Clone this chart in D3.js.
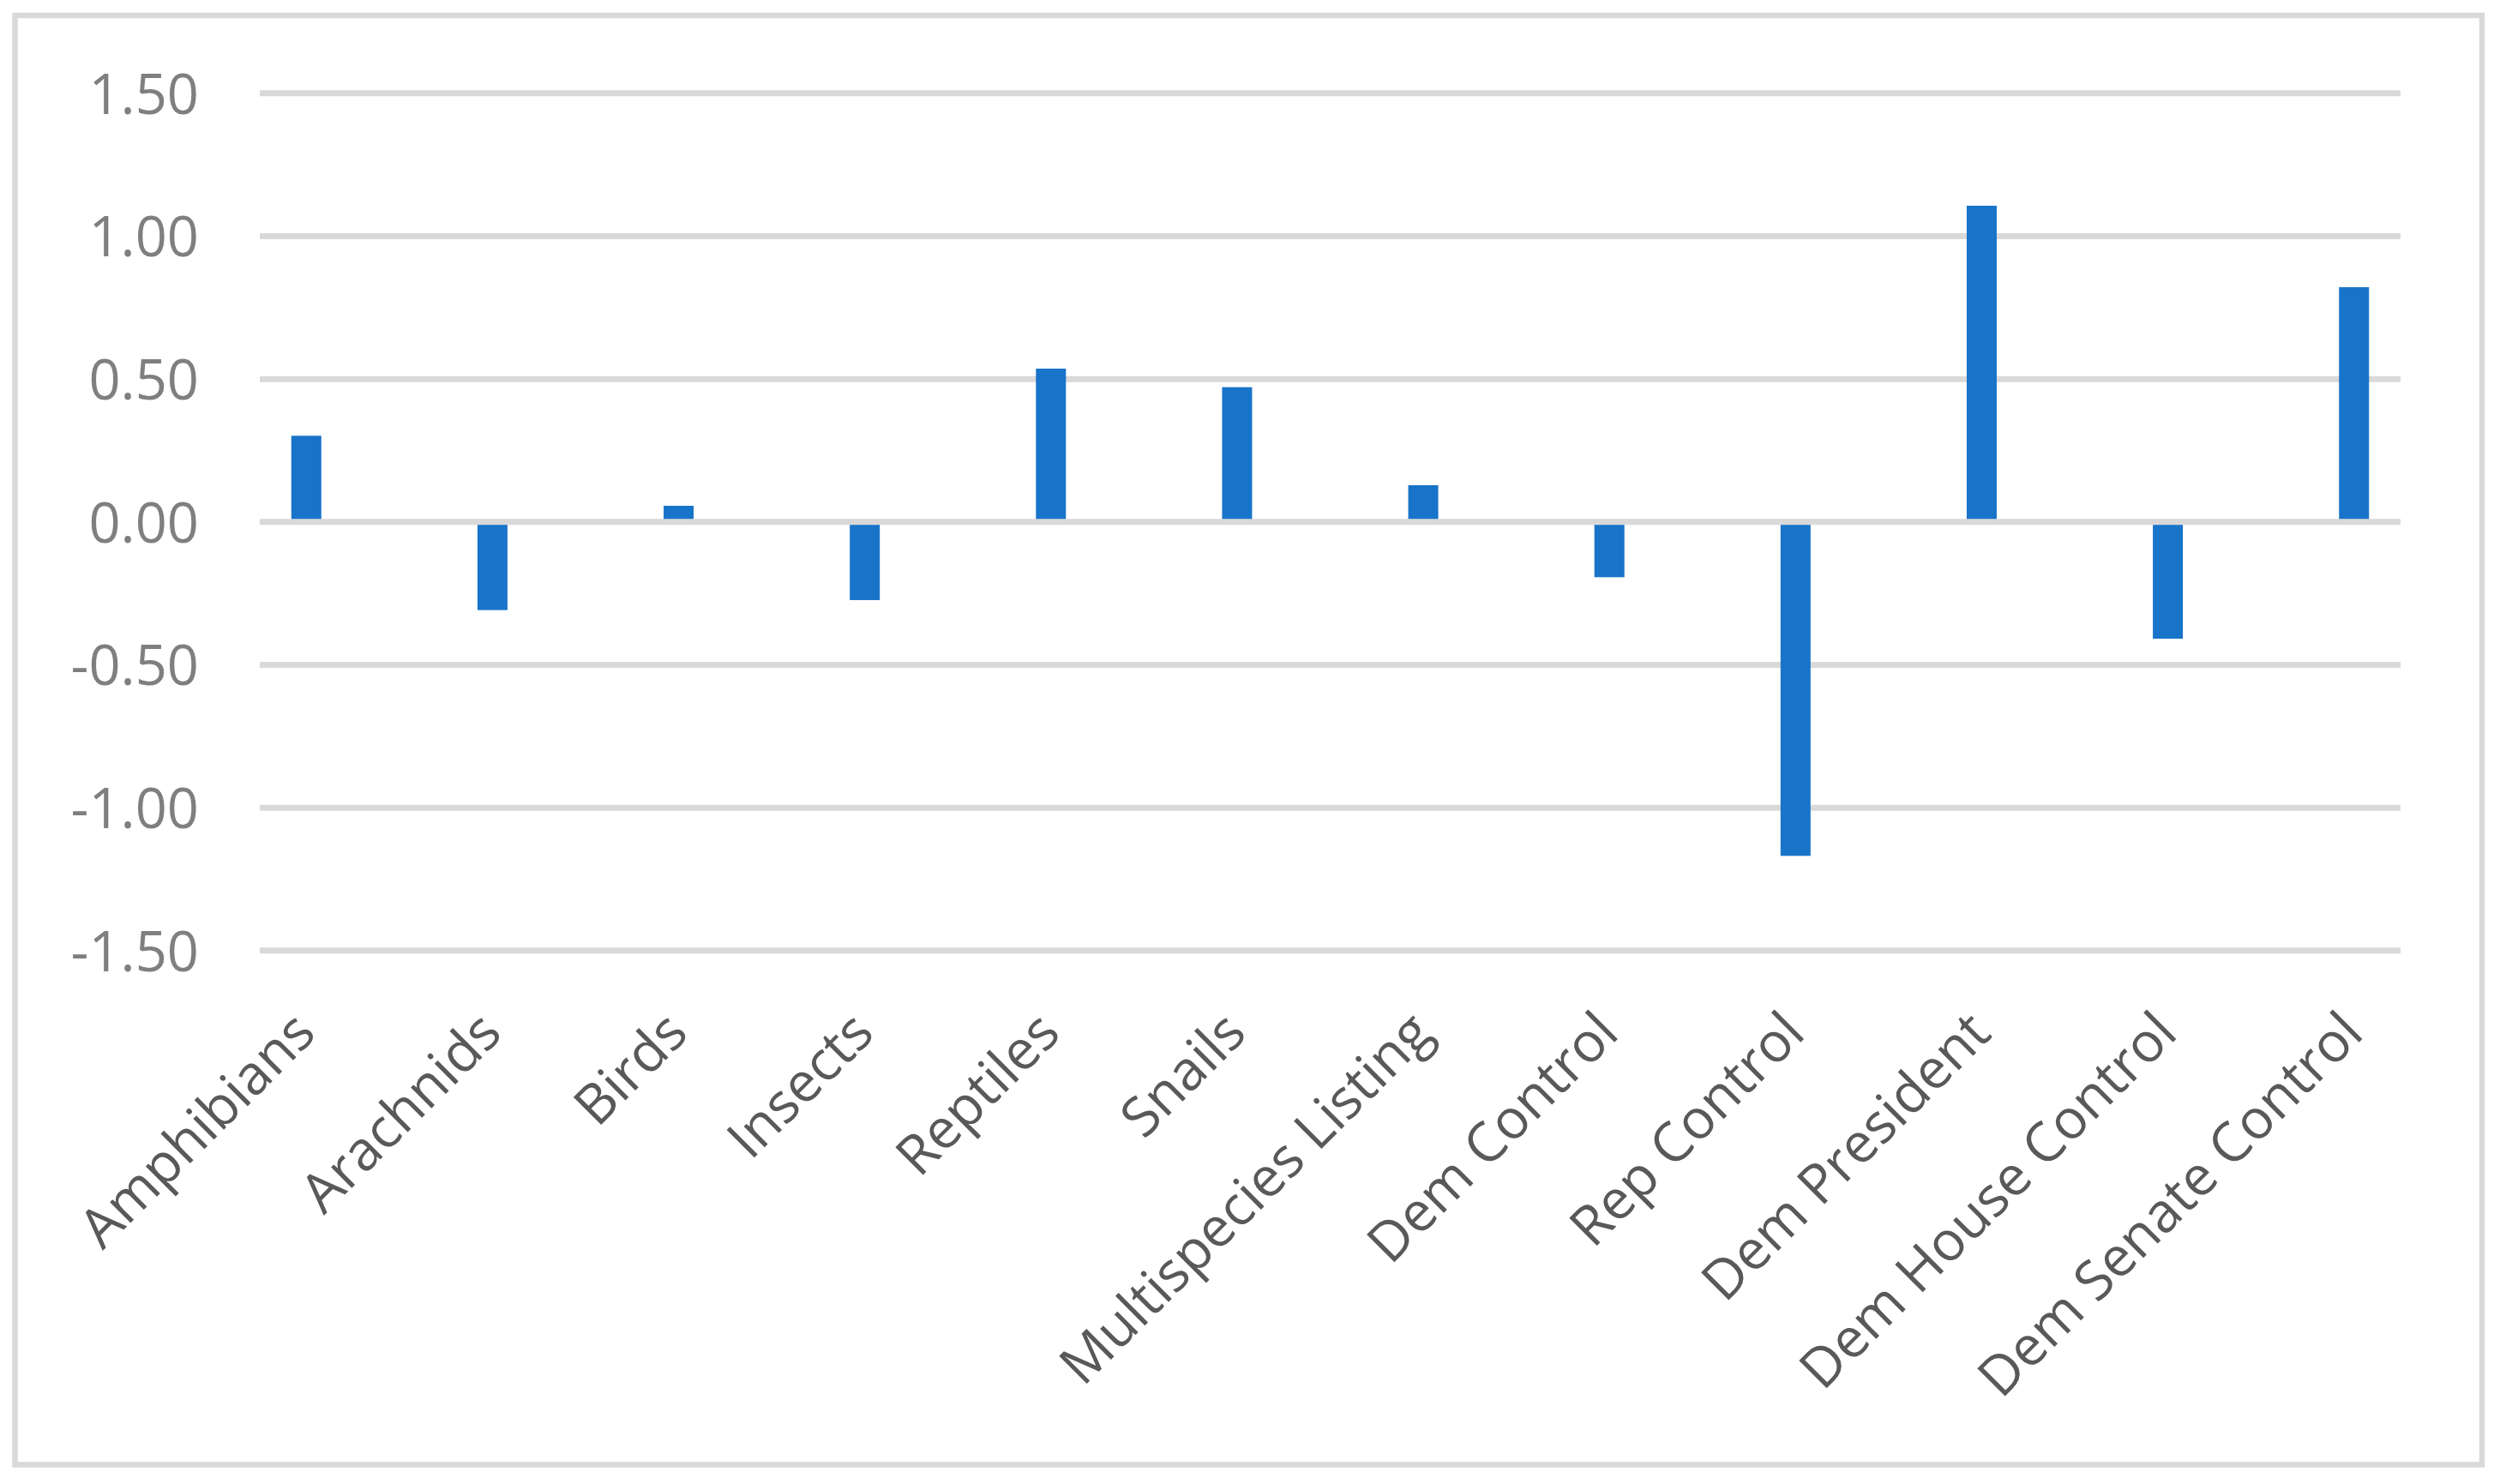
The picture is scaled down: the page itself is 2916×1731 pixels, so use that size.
<!DOCTYPE html>
<html>
<head>
<meta charset="utf-8">
<script src="https://cdn.jsdelivr.net/npm/d3@7"></script>
<style>
  html, body { margin: 0; padding: 0; background: #ffffff; }
  svg { display: block; }
  text { font-family: "Open Sans", "Noto Sans", sans-serif; }
</style>
</head>
<body>
<svg id="chart" width="2916" height="1731"></svg>
<script>
const categories = [
  "Amphibians", "Arachnids", "Birds", "Insects", "Reptiles", "Snails",
  "Multispecies Listing", "Dem Control", "Rep Control", "Dem President",
  "Dem House Control", "Dem Senate Control"
];
const values = [0.30, -0.31, 0.055, -0.275, 0.535, 0.47, 0.127, -0.195, -1.17, 1.105, -0.41, 0.82];
const yTicks = [-1.5, -1.0, -0.5, 0, 0.5, 1.0, 1.5];

const plot = { left: 303, right: 2800, top: 108.3, bottom: 1108.3 };

const svg = d3.select("#chart");

// outer frame
svg.append("rect")
  .attr("x", 17.5).attr("y", 18)
  .attr("width", 2895 - 17.5).attr("height", 1708.5 - 18)
  .attr("fill", "#ffffff")
  .attr("stroke", "#d9d9d9")
  .attr("stroke-width", 6.5);

const x = d3.scalePoint().domain(categories).range([plot.left, plot.right]).padding(0.25);
const y = d3.scaleLinear().domain([-1.5, 1.5]).range([plot.bottom, plot.top]);

// gridlines (except zero)
const grid = svg.append("g")
  .attr("transform", `translate(${plot.left},0)`)
  .call(d3.axisLeft(y).tickValues(yTicks.filter(d => d !== 0))
    .tickSize(-(plot.right - plot.left)).tickFormat(""));
grid.select(".domain").remove();
grid.selectAll("line").attr("stroke", "#d9d9d9").attr("stroke-width", 7);

// bars
const data = categories.map((c, i) => ({ c, v: values[i] }));
const barW = 35;
svg.append("g").selectAll("rect").data(data).join("rect")
  .attr("x", d => x(d.c) - barW / 2)
  .attr("width", barW)
  .attr("y", d => Math.min(y(d.v), y(0)))
  .attr("height", d => Math.abs(y(d.v) - y(0)))
  .attr("fill", "#1874c9");

// zero line on top
const zero = svg.append("g")
  .attr("transform", `translate(${plot.left},0)`)
  .call(d3.axisLeft(y).tickValues([0])
    .tickSize(-(plot.right - plot.left)).tickFormat(""));
zero.select(".domain").remove();
zero.selectAll("line").attr("stroke", "#d9d9d9").attr("stroke-width", 7);

// y axis labels
const yAxis = svg.append("g")
  .attr("transform", `translate(${plot.left},0)`)
  .call(d3.axisLeft(y).tickValues(yTicks).tickSize(0).tickPadding(71)
    .tickFormat(d => d.toFixed(2)));
yAxis.select(".domain").remove();
yAxis.selectAll("text")
  .attr("font-family", "'Open Sans', sans-serif")
  .attr("font-size", 65)
  .attr("fill", "#7f7f7f")
  .attr("dy", null)
  .attr("y", 24);

// x axis labels
const xAxis = svg.append("g")
  .attr("transform", `translate(0,1208)`)
  .call(d3.axisBottom(x).tickSize(0).tickPadding(0));
xAxis.select(".domain").remove();
xAxis.selectAll("text")
  .attr("font-family", "'Open Sans', sans-serif")
  .attr("font-size", 64)
  .attr("fill", "#595959")
  .attr("text-anchor", "end")
  .attr("dy", null)
  .attr("y", 0)
  .attr("x", 0)
  .attr("transform", "translate(13,0) rotate(-45)");
</script>
</body>
</html>
